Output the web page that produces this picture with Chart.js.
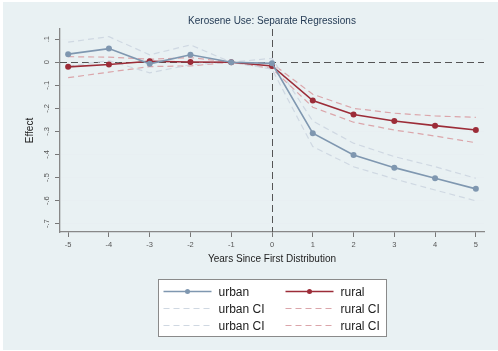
<!DOCTYPE html>
<html>
<head>
<meta charset="utf-8">
<title>Kerosene Use: Separate Regressions</title>
<script src="https://cdn.jsdelivr.net/npm/chart.js@4.4.1/dist/chart.umd.min.js"></script>
<style>
  html, body { margin: 0; padding: 0; background: #ffffff; }
  #wrap { position: absolute; left: 3px; top: 2px; width: 495px; height: 348px; background: #e9f1f3; }
</style>
</head>
<body>
<div id="wrap"><canvas id="chart" width="495" height="348"></canvas></div>
<script>
// years relative to first distribution
const years = [-5, -4, -3, -2, -1, 0, 1, 2, 3, 4, 5];

// point estimates
const urban = [0.035, 0.059, -0.007, 0.032, 0, -0.005, -0.308, -0.402, -0.457, -0.503, -0.549];
const rural = [-0.020, -0.010, 0.004, 0.001, 0, -0.016, -0.166, -0.227, -0.255, -0.275, -0.294];

// confidence bands
const urbanHi = [0.087, 0.111, 0.032, 0.075, 0, 0.017, -0.255, -0.351, -0.409, -0.453, -0.503];
const urbanLo = [-0.017, 0.007, -0.046, -0.011, 0, -0.030, -0.366, -0.453, -0.506, -0.554, -0.601];
const ruralHi = [0.024, 0.022, 0.013, 0.020, 0, -0.005, -0.139, -0.200, -0.221, -0.233, -0.239];
const ruralLo = [-0.067, -0.043, -0.019, -0.016, 0, -0.027, -0.195, -0.260, -0.294, -0.320, -0.349];

// axis ticks
const xTicks = [-5, -4, -3, -2, -1, 0, 1, 2, 3, 4, 5];
const yTicks = [0.1, 0, -0.1, -0.2, -0.3, -0.4, -0.5, -0.6, -0.7];
const yTickLabels = ['.1', '0', '-.1', '-.2', '-.3', '-.4', '-.5', '-.6', '-.7'];

const URBAN = '#7f97b0';
const RURAL = '#9c2c38';
const URBAN_CI = '#cfd8e2';
const RURAL_CI = '#dba5aa';

function pts(values) {
  return years.map((y, i) => ({ x: y, y: values[i] }));
}

function meanSet(label, values, color) {
  return {
    label: label,
    data: pts(values),
    borderColor: color,
    backgroundColor: color,
    borderWidth: 1.6,
    pointRadius: 3,
    pointBorderWidth: 0,
    pointBackgroundColor: color,
    tension: 0
  };
}

function ciSet(label, values, color) {
  return {
    label: label,
    data: pts(values),
    borderColor: color,
    borderWidth: 1.2,
    borderDash: [6, 4],
    pointRadius: 0,
    tension: 0
  };
}

// zero reference lines (dashed)
const refLines = {
  id: 'refLines',
  beforeDatasetsDraw(chart) {
    const { ctx, chartArea: a, scales: { x, y } } = chart;
    ctx.save();
    ctx.strokeStyle = '#555';
    ctx.lineWidth = 1;
    ctx.setLineDash([7, 4]);
    const y0 = Math.round(y.getPixelForValue(0)) + 0.5;
    const x0 = Math.round(x.getPixelForValue(0)) + 0.5;
    ctx.beginPath();
    ctx.moveTo(a.left, y0);
    ctx.lineTo(a.right, y0);
    ctx.moveTo(x0, a.top);
    ctx.lineTo(x0, a.bottom);
    ctx.stroke();
    ctx.restore();
  }
};

// title and boxed two-column legend
const decor = {
  id: 'decor',
  afterDraw(chart) {
    const { ctx, chartArea: a } = chart;
    const cx = (a.left + a.right) / 2;
    ctx.save();
    ctx.fillStyle = '#243b55';
    ctx.font = '10px "Liberation Sans", Arial, sans-serif';
    ctx.textAlign = 'center';
    ctx.textBaseline = 'middle';
    ctx.fillText('Kerosene Use: Separate Regressions', cx, 19);

    const w = 228, h = 57;
    const left = Math.round(cx - w / 2) + 0.5;
    const top = Math.round(a.bottom + 47) + 0.5;
    ctx.fillStyle = '#ffffff';
    ctx.fillRect(left, top, w, h);
    ctx.strokeStyle = '#8a8a8a';
    ctx.lineWidth = 1;
    ctx.strokeRect(left, top, w, h);

    ctx.font = '12px "Liberation Sans", Arial, sans-serif';
    ctx.textAlign = 'left';
    chart.data.datasets.forEach((ds, i) => {
      const col = i % 2, row = Math.floor(i / 2);
      const sx = left + 5 + col * 122;
      const sy = top + 12 + row * 17;
      ctx.strokeStyle = ds.borderColor;
      ctx.lineWidth = ds.borderWidth;
      ctx.setLineDash(ds.borderDash || []);
      ctx.beginPath();
      ctx.moveTo(sx, sy);
      ctx.lineTo(sx + 48, sy);
      ctx.stroke();
      ctx.setLineDash([]);
      if (ds.pointRadius) {
        ctx.fillStyle = ds.pointBackgroundColor;
        ctx.beginPath();
        ctx.arc(sx + 24, sy, 2.5, 0, Math.PI * 2);
        ctx.fill();
      }
      ctx.fillStyle = '#222';
      ctx.fillText(ds.label, sx + 55, sy + 1);
    });
    ctx.restore();
  }
};

const ctx = document.getElementById('chart').getContext('2d');
const chart = new Chart(ctx, {
  type: 'line',
  data: {
    datasets: [
      meanSet('urban', urban, URBAN),
      meanSet('rural', rural, RURAL),
      ciSet('urban CI', urbanHi, URBAN_CI),
      ciSet('rural CI', ruralHi, RURAL_CI),
      ciSet('urban CI', urbanLo, URBAN_CI),
      ciSet('rural CI', ruralLo, RURAL_CI)
    ]
  },
  options: {
    responsive: false,
    animation: false,
    events: [],
    layout: { padding: { left: 0, top: 27, right: 14, bottom: 83 } },
    plugins: {
      legend: { display: false },
      title: { display: false },
      tooltip: { enabled: false }
    },
    scales: {
      x: {
        type: 'linear',
        min: -5.2,
        max: 5.2,
        afterBuildTicks: (s) => { s.ticks = xTicks.map(v => ({ value: v })); },
        afterFit: (s) => { s.height = 35; s.paddingLeft = 0; s.paddingRight = 0; },
        grid: { display: true, drawOnChartArea: false, drawTicks: true, tickLength: 5, tickColor: '#777' },
        border: { display: true, color: '#888', width: 1.3 },
        ticks: {
          padding: 3,
          color: '#555',
          font: { family: '"Liberation Sans", Arial, sans-serif', size: 7.5 },
          maxRotation: 0,
          autoSkip: false
        },
        title: {
          display: true,
          text: 'Years Since First Distribution',
          color: '#222',
          font: { family: '"Liberation Sans", Arial, sans-serif', size: 10 },
          padding: { top: 0, bottom: 2 }
        }
      },
      y: {
        type: 'linear',
        min: -0.736,
        max: 0.144,
        afterBuildTicks: (s) => { s.ticks = yTicks.map(v => ({ value: v })); },
        afterFit: (s) => { s.width = 57; s.paddingTop = 0; s.paddingBottom = 0; },
        grid: { display: true, drawOnChartArea: true, drawTicks: true, tickLength: 5, color: '#e8eff2', tickColor: '#777' },
        border: { display: true, color: '#888', width: 1.3 },
        ticks: {
          padding: 4,
          color: '#555',
          crossAlign: 'center',
          minRotation: 90,
          maxRotation: 90,
          autoSkip: false,
          font: { family: '"Liberation Sans", Arial, sans-serif', size: 7.5 },
          callback: (value) => {
            const i = yTicks.findIndex(t => Math.abs(t - value) < 1e-9);
            return i >= 0 ? yTickLabels[i] : '';
          }
        },
        title: {
          display: true,
          text: 'Effect',
          color: '#222',
          font: { family: '"Liberation Sans", Arial, sans-serif', size: 10 },
          padding: { top: 21, bottom: 0 }
        }
      }
    }
  },
  plugins: [refLines, decor]
});
</script>
</body>
</html>
